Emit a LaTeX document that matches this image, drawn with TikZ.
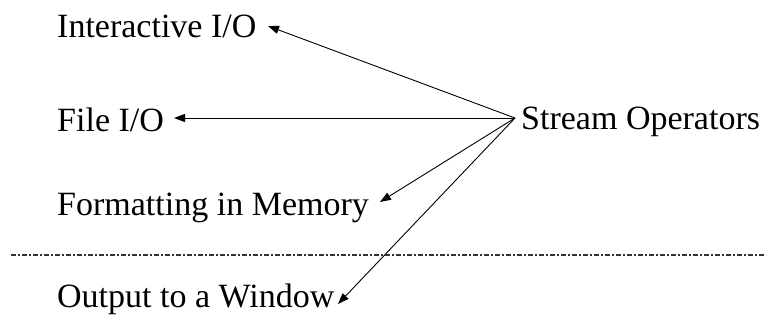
\documentclass[tikz,border=0pt]{standalone}
\usepackage{fontspec}
\setmainfont{Liberation Serif}
\usetikzlibrary{arrows.meta}
\begin{document}
\begin{tikzpicture}[x=1pt,y=-1pt,
  label/.style={anchor=base west, inner sep=0pt, font=\fontsize{34}{40}\selectfont},
  feed/.style={line width=0.9pt, -{Triangle[length=11pt,width=8pt]}},
  divider/.style={line width=1.1pt, black!80, dash pattern=on 5pt off 2pt on 1.5pt off 2.5pt}]
  \useasboundingbox (0,0) rectangle (769,327);

  % category labels
  \node[label] (inter) at (57,37)  {Interactive I/O};
  \node[label] (file)  at (57,131) {File I/O};
  \node[label] (fmt)   at (57,215) {Formatting in Memory};
  \node[label] (win)   at (57,307) {Output to a Window};
  \node[label] (ops)   at (521,129) {Stream Operators};

  % where the arrows start and end
  \coordinate (hub) at (515,118);
  \coordinate (tinter) at (268,26);
  \coordinate (tfile)  at (174,118);
  \coordinate (tfmt)   at (380,202);
  \coordinate (twin)   at (338,304);

  \draw[feed] (hub) -- (tinter);
  \draw[feed] (hub) -- (tfile);
  \draw[feed] (hub) -- (tfmt);
  \draw[feed] (hub) -- (twin);

  % separating line
  \coordinate (dl) at (11,255);
  \coordinate (dr) at (766,255);
  \draw[divider] (dl) -- (dr);
\end{tikzpicture}
\end{document}
